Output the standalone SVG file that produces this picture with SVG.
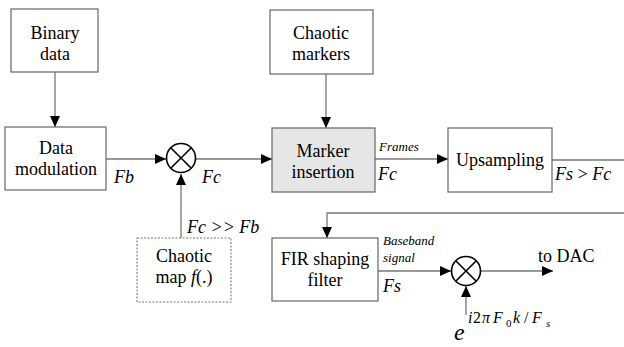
<svg xmlns="http://www.w3.org/2000/svg" width="624" height="347" viewBox="0 0 624 347">
<defs>
<marker id="ah" markerUnits="userSpaceOnUse" markerWidth="12" markerHeight="10" refX="11" refY="5" orient="auto">
<path d="M0,0 L11,5 L0,10 Z" fill="#000"/>
</marker>
</defs>
<style>
.box{fill:#fff;stroke:#666;stroke-width:1.2}
.gray{fill:#e6e6e6;stroke:#666;stroke-width:1.2}
.dash{fill:#fff;stroke:#777;stroke-width:1.1;stroke-dasharray:2,1.5}
.ln{fill:none;stroke:#777;stroke-width:1.3}
.mix{fill:#fff;stroke:#000;stroke-width:1.6}
.t{font-size:18px;text-anchor:middle}
.i{font-size:18px;font-style:italic}
.s{font-size:13px;font-style:italic}
</style>
<rect width="624" height="347" fill="#fff"/>
<g id="connectors">
<line class="ln" x1="55" y1="72" x2="55" y2="127" marker-end="url(#ah)"/>
<line class="ln" x1="106" y1="159" x2="166" y2="159" marker-end="url(#ah)"/>
<line class="ln" x1="195" y1="159" x2="272" y2="159" marker-end="url(#ah)"/>
<line class="ln" x1="181" y1="238" x2="181" y2="174" marker-end="url(#ah)"/>
<line class="ln" x1="326" y1="74" x2="326" y2="128" marker-end="url(#ah)"/>
<line class="ln" x1="375" y1="159" x2="448" y2="159" marker-end="url(#ah)"/>
<line class="ln" x1="552" y1="160" x2="624" y2="160"/>
<polyline class="ln" points="624,213 327,213 327,238" marker-end="url(#ah)"/>
<line class="ln" x1="378" y1="271" x2="451" y2="271" marker-end="url(#ah)"/>
<line class="ln" x1="481" y1="271" x2="553" y2="271" marker-end="url(#ah)"/>
<line class="ln" x1="466" y1="315" x2="466" y2="286" marker-end="url(#ah)"/>
</g>
<g font-family="'Liberation Serif', 'Times New Roman', serif" fill="#000">
<g id="binary-data">
<rect class="box" x="11" y="9" width="87" height="63"/>
<text class="t" x="55" y="39">Binary</text>
<text class="t" x="55" y="60">data</text>
</g>
<g id="data-modulation">
<rect class="box" x="5" y="127" width="101" height="63"/>
<text class="t" x="56" y="154">Data</text>
<text class="t" x="56" y="175">modulation</text>
</g>
<g id="mixer1">
<circle class="mix" cx="181" cy="158" r="14.5"/>
<path d="M170.7,147.7 L191.3,168.3 M191.3,147.7 L170.7,168.3" stroke="#000" stroke-width="1.6"/>
</g>
<g id="chaotic-map">
<rect class="dash" x="137" y="238" width="94" height="64"/>
<text class="t" x="184" y="262">Chaotic</text>
<text class="t" x="184" y="283">map <tspan font-style="italic">f</tspan>(.)</text>
</g>
<g id="chaotic-markers">
<rect class="box" x="270" y="10" width="103" height="64"/>
<text class="t" x="321" y="39">Chaotic</text>
<text class="t" x="321" y="60">markers</text>
</g>
<g id="marker-insertion">
<rect class="gray" x="272" y="128" width="103" height="64"/>
<text class="t" x="323" y="157">Marker</text>
<text class="t" x="323" y="178">insertion</text>
</g>
<g id="upsampling">
<rect class="box" x="448" y="128" width="104" height="64"/>
<text class="t" x="500" y="166">Upsampling</text>
</g>
<g id="fir-filter">
<rect class="box" x="272" y="238" width="106" height="63"/>
<text class="t" x="325" y="265">FIR shaping</text>
<text class="t" x="325" y="286">filter</text>
</g>
<g id="mixer2">
<circle class="mix" cx="466" cy="271" r="14.5"/>
<path d="M455.7,260.7 L476.3,281.3 M476.3,260.7 L455.7,281.3" stroke="#000" stroke-width="1.6"/>
</g>
<g id="labels">
<text class="i" x="114" y="183">Fb</text>
<text class="i" x="202" y="183">Fc</text>
<text class="i" x="187" y="233">Fc &gt;&gt; Fb</text>
<text class="s" x="379" y="151">Frames</text>
<text class="i" x="378" y="180">Fc</text>
<text class="i" x="555" y="180">Fs <tspan font-style="normal">&gt;</tspan> Fc</text>
<text class="s" x="383" y="245">Baseband</text>
<text class="s" x="383" y="262">signal</text>
<text class="i" x="383" y="292">Fs</text>
<text x="538" y="262" font-size="18">to DAC</text>
<text x="454" y="340" font-size="24" font-style="italic">e</text>
<text y="323" font-size="16" font-style="italic"><tspan x="468">i</tspan><tspan x="473" font-style="normal">2</tspan><tspan x="482">π</tspan><tspan x="493">F</tspan><tspan x="513">k</tspan><tspan x="524" font-style="normal">/</tspan><tspan x="532">F</tspan></text>
<text y="327" font-size="11"><tspan x="506">0</tspan><tspan x="546" font-style="italic">s</tspan></text>
</g>
</g>
</svg>
